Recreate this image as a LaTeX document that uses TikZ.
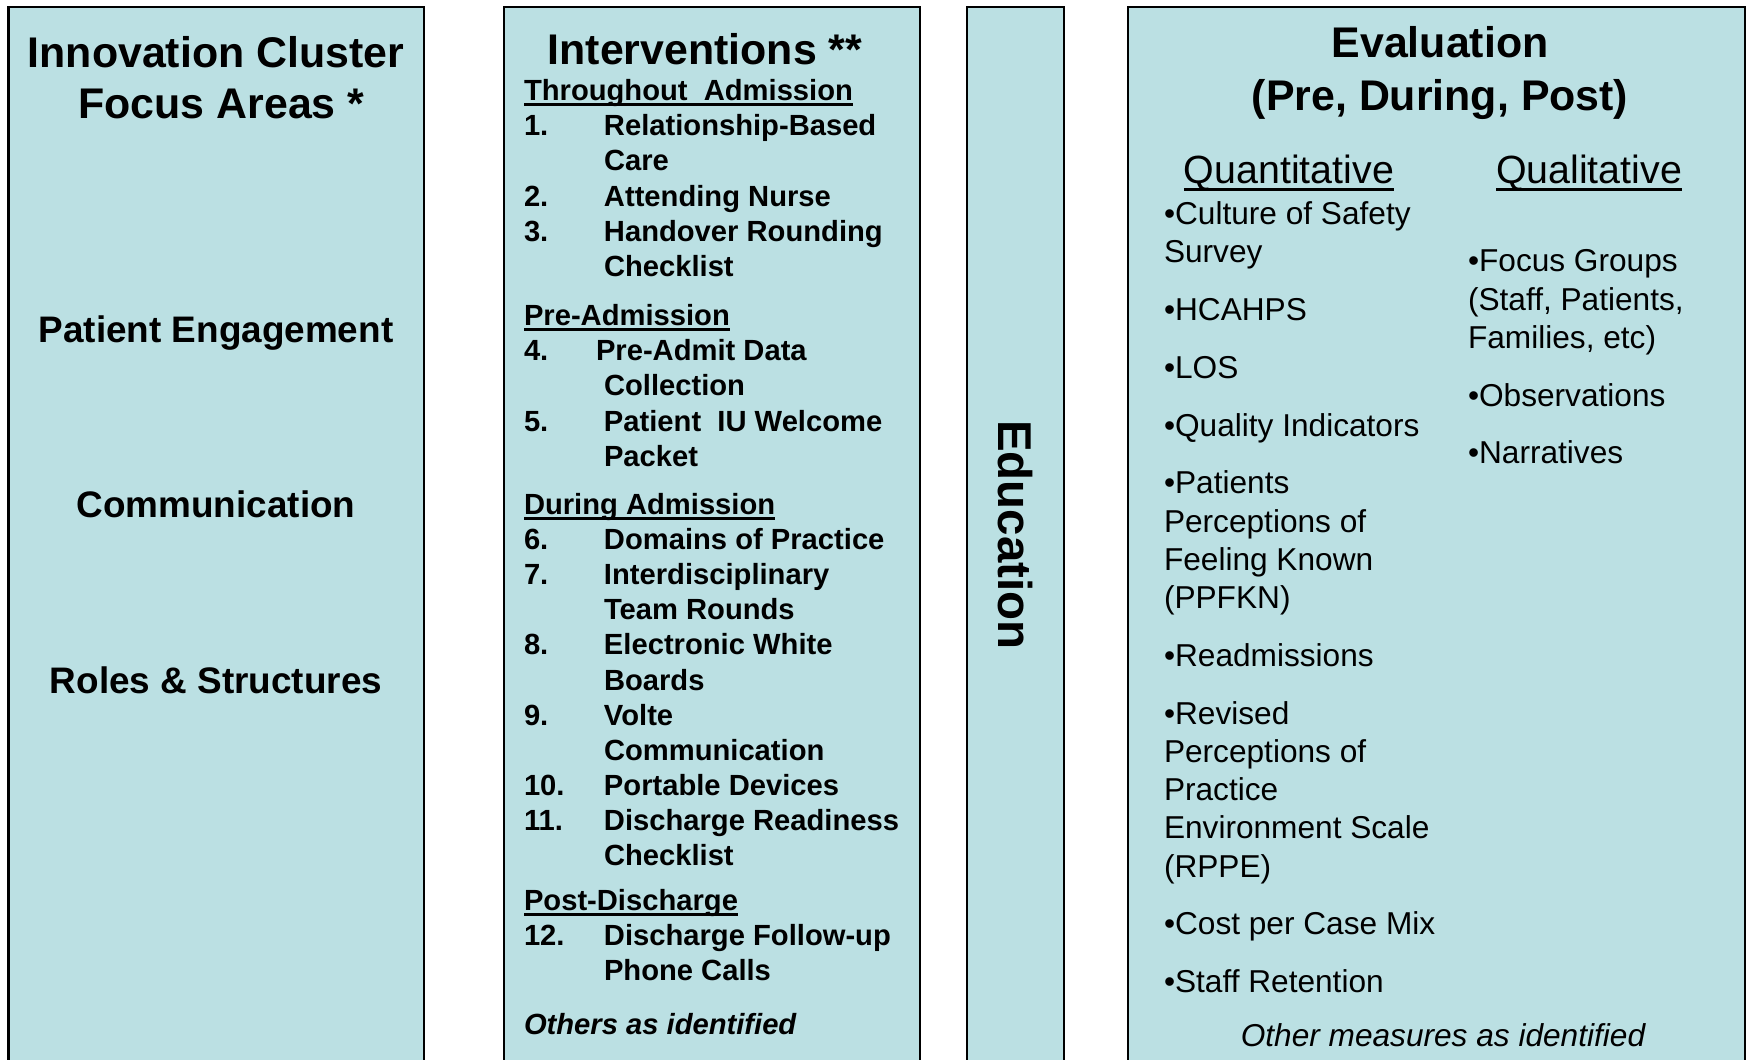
\documentclass[tikz,border=0pt]{standalone}
\usepackage{fontspec}
\setmainfont{Liberation Sans}
\usepackage{xcolor}
\usepackage{tikz}
\usetikzlibrary{positioning}
\definecolor{ClusterTeal}{HTML}{BBE0E3}
\definecolor{ClusterInk}{HTML}{000000}
\newcommand{\intitem}[3][8mm]{\makebox[#1][l]{#2}#3}
\newsavebox{\ulbox}
\newcommand{\uln}[1]{\sbox{\ulbox}{#1}\rlap{\rule[-0.19em]{\wd\ulbox}{0.095em}}\usebox{\ulbox}}

\begin{document}
\begin{tikzpicture}[x=1mm, y=-1mm, every node/.style={inner sep=0pt, outer sep=0pt, text=ClusterInk}]
      \tikzset{
        panel/.style={rectangle, draw=ClusterInk, line width=0.6pt, fill=ClusterTeal, anchor=north west, minimum height=110mm},
        heading/.style={font=\fontsize{12.2pt}{14.5pt}\selectfont\bfseries, align=center},
        focus/.style={font=\fontsize{10.5pt}{12.5pt}\selectfont\bfseries, anchor=base},
        steps/.style={font=\fontsize{8.3pt}{10pt}\selectfont\bfseries, align=left, anchor=north west},
        measures/.style={font=\fontsize{9pt}{10.88pt}\selectfont, align=left, anchor=north west},
        kind/.style={font=\fontsize{11.2pt}{13pt}\selectfont, anchor=base}
      }
      \useasboundingbox (0,0) rectangle (174.7,106);
      \clip (0,0) rectangle (174.7,106);

      % the four columns
      \node[panel, minimum width=41.55mm] (focusbox) at (0.85,0.7) {};
      \node[panel, minimum width=41.6mm] (stepbox) at (50.4,0.7) {};
      \node[panel, minimum width=9.7mm] (edubox) at (96.7,0.7) {};
      \node[panel, minimum width=61.7mm] (evalbox) at (112.8,0.7) {};

      % focus areas
      \node[heading] (focustitle) at (21.6,7.75) {Innovation Cluster\\\hspace*{1.1mm}Focus Areas *};
      \node[focus] (engage) at (21.6,34.2) {Patient Engagement};
      \node[focus] (comm) at (21.6,51.7) {Communication};
      \node[focus] (roles) at (21.6,69.3) {Roles \& Structures};

      % interventions
      \node[heading, anchor=base] (steptitle) at (70.5,6.44) {Interventions **};
      \node[steps] (steplist) at (52.4,7.95) {\uln{Throughout\ \ Admission}\\
        \intitem{1.}{Relationship-Based}\\
        \intitem{}{Care}\\
        \intitem{2.}{Attending Nurse}\\
        \intitem{3.}{Handover Rounding}\\
        \intitem{}{Checklist}\\[4pt]
        \uln{Pre-Admission}\\
        \intitem[7.2mm]{4.}{Pre-Admit Data}\\
        \intitem{}{Collection}\\
        \intitem{5.}{Patient\ \ IU Welcome}\\
        \intitem{}{Packet}\\[3.7pt]
        \uln{During Admission}\\
        \intitem{6.}{Domains of Practice}\\
        \intitem{7.}{Interdisciplinary}\\
        \intitem{}{Team Rounds}\\
        \intitem{8.}{Electronic White}\\
        \intitem{}{Boards}\\
        \intitem{9.}{Volte}\\
        \intitem{}{Communication}\\
        \intitem{10.}{Portable Devices}\\
        \intitem{11.}{Discharge Readiness}\\
        \intitem{}{Checklist}\\[2.6pt]
        \uln{Post-Discharge}\\
        \intitem{12.}{Discharge Follow-up}\\
        \intitem{}{Phone Calls}\\[5.5pt]
        \textit{Others as identified}};

      % education
      \node[font=\fontsize{13.5pt}{16pt}\selectfont\bfseries, rotate=-90] (edu) at (101.55,53.5) {Education};

      % evaluation
      \node[heading, font=\fontsize{12.2pt}{15pt}\selectfont\bfseries] (evaltitle) at (144.0,7.3) {Evaluation\\(Pre, During, Post)};
      \node[kind] (quant) at (128.9,18.4) {\uln{Quantitative}};
      \node[kind] (qual) at (158.9,18.4) {\uln{Qualitative}};
      \node[measures] (quantlist) at (116.4,20.17) {•Culture of Safety\\
        Survey\\[5.55pt]
        •HCAHPS\\[5.55pt]
        •LOS\\[5.55pt]
        •Quality Indicators\\[5.55pt]
        •Patients\\
        Perceptions of\\
        Feeling Known\\
        (PPFKN)\\[5.55pt]
        •Readmissions\\[5.55pt]
        •Revised\\
        Perceptions of\\
        Practice\\
        Environment Scale\\
        (RPPE)\\[5.55pt]
        •Cost per Case Mix\\[5.55pt]
        •Staff Retention};
      \node[measures] (quallist) at (146.8,24.97) {•Focus Groups\\
        (Staff, Patients,\\
        Families, etc)\\[5.55pt]
        •Observations\\[5.55pt]
        •Narratives};
      \node[font=\fontsize{9pt}{11pt}\selectfont\itshape, anchor=base] (othermeas) at (144.3,104.6) {Other measures as identified};
    \end{tikzpicture}
\end{document}
